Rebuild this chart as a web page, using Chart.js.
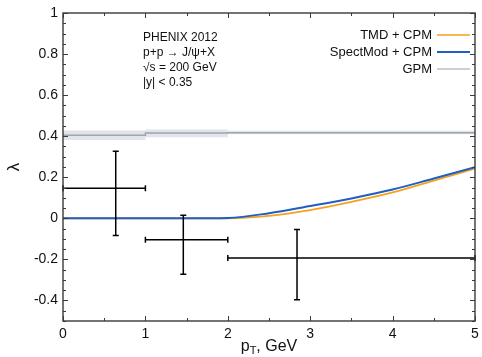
<!DOCTYPE html>
<html>
<head>
<meta charset="utf-8">
<script src="https://cdn.jsdelivr.net/npm/chart.js@4"></script>
<style>
  html, body { margin: 0; padding: 0; background: #fff; }
  #wrap { width: 482px; height: 357px; position: relative; }
</style>
</head>
<body>
<div id="wrap"><canvas id="c" width="482" height="357"></canvas></div>
<script>
// ---- data ----
const xCurve = [0, 0.5, 1, 1.5, 2, 2.5, 3, 3.5, 4, 4.5, 5];
const tmdCpm = [0, 0, 0, 0, 0, 0.012, 0.040, 0.080, 0.126, 0.184, 0.242];
const spectModCpm = [0, 0, 0, 0, 0.002, 0.025, 0.060, 0.097, 0.140, 0.194, 0.249];

const gpmEdges = [0, 1, 2, 5];
const gpmCentral = [0.405, 0.415, 0.417];
const gpmUpper = [0.428, 0.433, 0.427];
const gpmLower = [0.382, 0.395, 0.409];

const expX = [0.64, 1.46, 2.84];
const expXLow = [0, 1, 2];
const expXHigh = [1, 2, 5];
const expY = [0.147, -0.104, -0.193];
const expYHigh = [0.327, 0.015, -0.054];
const expYLow = [-0.083, -0.272, -0.396];

const xTickValues = [0, 1, 2, 3, 4, 5];
const yTickValues = [-0.4, -0.2, 0, 0.2, 0.4, 0.6, 0.8, 1];
const xMinorTicks = [0.5, 1.5, 2.5, 3.5, 4.5];
const yMinorStep = 0.05;

const legendLabels = ['TMD + CPM', 'SpectMod + CPM', 'GPM'];
const infoLines = ['PHENIX 2012', 'p+p \u2192 J/\u03c8+X', '\u221As = 200 GeV', '|y| < 0.35'];

const COL_TMD = '#F5A21C';
const COL_SPECT = '#1F5FC2';
const COL_GPM = '#9DA5AE';
const COL_GPM_BAND = 'rgba(205,212,220,0.6)';
const COL_GPM_LEG = '#C9D0D8';
const FONT = '"Liberation Sans", Arial, Helvetica, sans-serif';

function pts(xs, ys) { return xs.map((x, i) => ({ x: x, y: ys[i] })); }
function stepPts(edges, vals) {
  const out = vals.map((v, i) => ({ x: edges[i], y: v }));
  out.push({ x: edges[edges.length - 1], y: vals[vals.length - 1] });
  return out;
}

const decorPlugin = {
  id: 'decor',
  afterDatasetsDraw(chart) {
    const ctx = chart.ctx, xs = chart.scales.x, ys = chart.scales.y;
    ctx.save();
    // error bars
    ctx.strokeStyle = '#000';
    ctx.lineWidth = 1.5;
    const cap = 3;
    for (let i = 0; i < expX.length; i++) {
      const px = xs.getPixelForValue(expX[i]);
      const py = ys.getPixelForValue(expY[i]);
      const x0 = xs.getPixelForValue(expXLow[i]);
      const x1 = xs.getPixelForValue(expXHigh[i]);
      const y0 = ys.getPixelForValue(expYLow[i]);
      const y1 = ys.getPixelForValue(expYHigh[i]);
      ctx.beginPath();
      ctx.moveTo(x0, py); ctx.lineTo(x1, py);
      ctx.moveTo(px, y0); ctx.lineTo(px, y1);
      ctx.moveTo(px - cap, y0); ctx.lineTo(px + cap, y0);
      ctx.moveTo(px - cap, y1); ctx.lineTo(px + cap, y1);
      ctx.moveTo(x0, py - cap); ctx.lineTo(x0, py + cap);
      ctx.moveTo(x1, py - cap); ctx.lineTo(x1, py + cap);
      ctx.stroke();
    }
    ctx.restore();
  },
  afterDraw(chart) {
    const ctx = chart.ctx, xs = chart.scales.x, ys = chart.scales.y;
    const a = chart.chartArea;
    ctx.save();
    // frame
    ctx.strokeStyle = '#3a3a3a';
    ctx.lineWidth = 1.4;
    ctx.strokeRect(a.left, a.top, a.right - a.left, a.bottom - a.top);
    // ticks
    ctx.lineWidth = 1;
    ctx.strokeStyle = '#3a3a3a';
    ctx.beginPath();
    const maj = 5, mn = 3;
    xTickValues.forEach(v => {
      const p = Math.round(xs.getPixelForValue(v)) + 0.5;
      ctx.moveTo(p, a.bottom); ctx.lineTo(p, a.bottom - maj);
      ctx.moveTo(p, a.top); ctx.lineTo(p, a.top + maj);
    });
    xMinorTicks.forEach(v => {
      const p = Math.round(xs.getPixelForValue(v)) + 0.5;
      ctx.moveTo(p, a.bottom); ctx.lineTo(p, a.bottom - mn);
      ctx.moveTo(p, a.top); ctx.lineTo(p, a.top + mn);
    });
    for (let k = -10; k <= 20; k++) {
      const v = k * yMinorStep;
      const isMaj = yTickValues.some(t => Math.abs(t - v) < 1e-6);
      const len = isMaj ? maj : mn;
      const p = Math.round(ys.getPixelForValue(v)) + 0.5;
      ctx.moveTo(a.left, p); ctx.lineTo(a.left + len, p);
      ctx.moveTo(a.right, p); ctx.lineTo(a.right - len, p);
    }
    ctx.stroke();

    // x axis title with subscript
    ctx.fillStyle = '#111';
    ctx.textBaseline = 'alphabetic';
    const fMain = '16px ' + FONT, fSub = '11px ' + FONT;
    ctx.font = fMain; const w1 = ctx.measureText('p').width;
    ctx.font = fSub; const w2 = ctx.measureText('T').width;
    ctx.font = fMain; const w3 = ctx.measureText(', GeV').width;
    const tw = w1 + w2 + w3;
    let tx = (a.left + a.right) / 2 - tw / 2;
    const ty = 351;
    ctx.textAlign = 'left';
    ctx.font = fMain; ctx.fillText('p', tx, ty); tx += w1;
    ctx.font = fSub; ctx.fillText('T', tx, ty + 3); tx += w2;
    ctx.font = fMain; ctx.fillText(', GeV', tx, ty);

    // info text
    ctx.font = '12px ' + FONT;
    ctx.textAlign = 'left';
    ctx.textBaseline = 'middle';
    infoLines.forEach((s, i) => ctx.fillText(s, 143, 38 + i * 15));

    // legend
    const legCols = [COL_TMD, COL_SPECT, COL_GPM_LEG];
    const legW = [1.5, 2.2, 2];
    ctx.font = '13px ' + FONT;
    ctx.textAlign = 'right';
    legendLabels.forEach((s, i) => {
      const y = 35 + i * 17;
      ctx.fillStyle = '#111';
      ctx.fillText(s, 432, y);
      ctx.strokeStyle = legCols[i];
      ctx.lineWidth = legW[i];
      ctx.beginPath();
      ctx.moveTo(437, y); ctx.lineTo(470, y);
      ctx.stroke();
    });
    ctx.restore();
  }
};

new Chart(document.getElementById('c'), {
  type: 'line',
  data: {
    datasets: [
      { label: legendLabels[1], data: pts(xCurve, spectModCpm), borderColor: COL_SPECT, borderWidth: 2,
        pointRadius: 0, cubicInterpolationMode: 'monotone', fill: false, order: 1 },
      { label: legendLabels[0], data: pts(xCurve, tmdCpm), borderColor: COL_TMD, borderWidth: 1.8,
        pointRadius: 0, cubicInterpolationMode: 'monotone', fill: false, order: 2 },
      { label: legendLabels[2], data: stepPts(gpmEdges, gpmCentral), borderColor: COL_GPM, borderWidth: 1.5,
        pointRadius: 0, stepped: true, fill: false, order: 3 },
      { label: 'GPM upper', data: stepPts(gpmEdges, gpmUpper), borderWidth: 0, borderColor: 'rgba(0,0,0,0)',
        backgroundColor: COL_GPM_BAND, pointRadius: 0, stepped: true, fill: '+1', order: 4 },
      { label: 'GPM lower', data: stepPts(gpmEdges, gpmLower), borderWidth: 0, borderColor: 'rgba(0,0,0,0)',
        pointRadius: 0, stepped: true, fill: false, order: 5 }
    ]
  },
  options: {
    responsive: false,
    animation: false,
    events: [],
    layout: { padding: { top: 13, right: 7, left: 0, bottom: 0 } },
    plugins: { legend: { display: false }, tooltip: { enabled: false }, title: { display: false } },
    scales: {
      x: {
        type: 'linear', min: 0, max: 5,
        grid: { display: false, drawTicks: false },
        border: { display: false },
        ticks: { color: '#111', font: { family: FONT, size: 14 }, padding: 5, maxRotation: 0,
                 callback: v => String(v) },
        afterBuildTicks: s => { s.ticks = xTickValues.map(v => ({ value: v })); },
        afterFit: s => { s.height = 36; s.paddingLeft = 0; s.paddingRight = 0; }
      },
      y: {
        type: 'linear', min: -0.5, max: 1,
        grid: { display: false, drawTicks: false },
        border: { display: false },
        title: { display: true, text: '\u03bb', color: '#111', font: { family: FONT, size: 17 }, padding: { top: 4, bottom: 0 } },
        ticks: { color: '#111', font: { family: FONT, size: 14 }, padding: 5,
                 callback: v => (Math.abs(v) < 1e-9 ? '0' : String(Math.round(v * 10) / 10)) },
        afterBuildTicks: s => { s.ticks = yTickValues.map(v => ({ value: v })); },
        afterFit: s => { s.width = 63; s.paddingTop = 0; s.paddingBottom = 0; }
      }
    }
  },
  plugins: [decorPlugin]
});
</script>
</body>
</html>
